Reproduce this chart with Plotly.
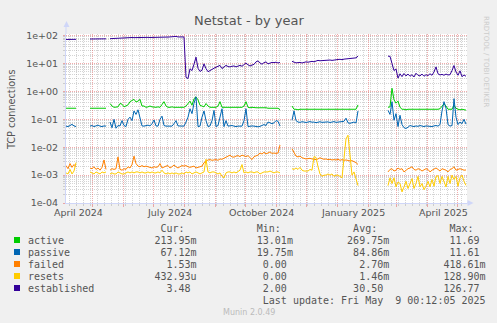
import pandas as pd
import plotly.graph_objects as go

N = None
START = "2024-04-05"
STEP = "2D"

active = [
    .25, .25, .26, .25, .25, .25, N, N, N, N,
    N, N, .25, .25, .25, .24, .25, .25, .25, .25,
    .25, N, .37, .3, .27, .27, .28, .37, .35, .28,
    .3, .33, .43, .48, .52, .42, .45, .52, .3, .3,
    .27, .28, .3, .28, .27, .27, .28, .27, .34, .43,
    .3, .27, .27, .28, .27, .27, .28, .27, .27, .27,
    .3, .38, .45, .32, .55, .64, .5, .32, .3, .28,
    .37, .3, .27, .27, .28, .27, .3, .43, .27, .27,
    .27, .27, .26, .27, .27, .26, .27, .27, .27, .3,
    .43, .27, .26, .27, .26, .26, .26, .26, .27, .26,
    .26, .25, .25, .24, .25, .25, .25, .22, N, N,
    N, N, N, .3, .23, .23, .22, .23, .23, .22,
    .23, .23, .22, .23, .23, .22, .23, .23, .22, .23,
    .23, .22, .23, .23, .22, .23, .23, .22, .23, .23,
    .22, .23, .23, .22, .23, .23, .33, N, N, N,
    N, N, N, N, N, N, N, N, N, N,
    N, .27, .28, 1.3, .5, .38, .45, .27, .23, .23,
    .22, .23, .23, .22, .23, .23, .22, .23, .23, .22,
    .23, .22, .23, .23, .22, .23, .23, .24, .3, .36,
    .3, .23, .23, .23, .32, .25, .23, .22, .23, .22, .214,
]

passive = [
    .057, .055, .06, .066, .058, .055, N, N, N, N,
    N, N, .057, .06, .055, .058, .062, .057, .055, .058,
    .057, N, .08, .05, .1, .048, .06, .058, .09, .06,
    .055, .1, .12, .09, .2, .15, .22, .12, .058, .057,
    .058, .062, .058, .07, .095, .058, .057, .1, .13, .06,
    .057, .058, .057, .057, .07, .09, .058, .057, .058, .057,
    .08, .12, .24, .16, .38, .64, .055, .057, .12, .2,
    .09, .055, .058, .09, .21, .055, .06, .12, .24, .055,
    .09, .057, .058, .06, .057, .055, .057, .058, .057, .09,
    .24, .055, .057, .058, .057, .055, .054, .056, .06, .065,
    .06, .08, .075, .07, .075, .09, .085, .058, N, N,
    N, N, N, .093, .2, .09, .08, .078, .082, .08,
    .077, .08, .083, .079, .08, .076, .08, .082, .078, .08,
    .079, .081, .077, .08, .083, .078, .08, .079, .081, .085,
    .11, .075, .072, .078, .08, .074, .2, N, N, N,
    N, N, N, N, N, N, N, N, N, N,
    N, .21, .15, .43, .093, .16, .055, .14, .065, .05,
    .047, .052, .06, .057, .055, .058, .056, .06, .057, .055,
    .058, .056, .057, .055, .058, .06, .057, .065, .2, .43,
    .25, .065, .057, .06, .55, .12, .065, .08, .07, .1, .067,
]

failed = [
    .0022, .0017, .0026, .0019, .0024, .002, N, N, N, N,
    N, N, .0018, .0017, .002, .0016, .0018, .0015, .0019, .0035,
    .0016, N, .0015, .0017, .0016, .0017, .0045, .0016, .0015, .0017,
    .0016, .002, .0018, .0024, .0048, .0026, .0021, .002, .0022, .002,
    .0021, .002, .002, .0018, .002, .0019, .002, .0026, .0018, .002,
    .0021, .0022, .0018, .002, .0023, .002, .0018, .002, .0022, .0021,
    .0022, .002, .0019, .002, .0021, .0018, .0019, .002, .0021, .0028,
    .0032, .0035, .0036, .0034, .0035, .0036, .0034, .0038, .0037, .004,
    .0044, .0046, .0052, .0045, .0044, .0048, .005, .0046, .0052, .0049,
    .0046, .005, .0044, .0036, .0046, .0048, .0052, .0062, .0057, .0066,
    .0058, .0062, .0068, .006, .0062, .006, .0062, .012, N, N,
    N, N, N, .0088, .0065, .0048, .0045, .0048, .0042, .004,
    .0038, .0039, .004, .0038, .0037, .0036, .0038, .0042, .0039, .0037,
    .0038, .0036, .0037, .0035, .0036, .0035, .0037, .0034, .0036, .0034,
    .0035, .0033, .0032, .0033, .0031, .0028, .0024, N, N, N,
    N, N, N, N, N, N, N, N, N, N,
    N, .0013, .0016, .0017, .0014, .0015, .0018, .0016, .0017, .0013,
    .0015, .0017, .0018, .002, .0016, .0015, .0017, .0016, .0014, .0015,
    .0017, .0016, .0013, .0015, .0016, .0018, .0016, .0014, .0017, .0016,
    .0015, .0013, .0016, .0017, .002, .0015, .0016, .0017, .0016, .0015, .00153,
]

resets = [
    .0012, .0011, .0016, .0011, .0014, .0028, N, N, N, N,
    N, N, .0013, .0012, .0011, .0013, .0012, .0011, .0013, .0012,
    .0013, N, .0011, .0012, .0011, .0011, .0013, .0012, .0011, .0011,
    .0012, .0013, .0012, .0013, .0012, .0013, .0013, .0012, .0013, .0012,
    .0012, .0013, .0012, .0013, .0012, .0012, .0013, .0012, .0015, .0012,
    .0011, .0012, .0011, .0012, .0011, .0012, .0011, .0011, .0012, .0011,
    .0013, .0012, .0013, .0011, .0012, .0013, .0012, .0011, .0012, .0013,
    .0037, .0013, .0012, .0013, .0013, .0012, .0011, .0012, .0009, .0008,
    .0012, .0013, .0013, .0012, .0013, .0012, .0013, .0015, .0024, .0012,
    .0013, .0012, .0013, .0013, .0012, .0013, .0013, .0011, .0012, .0013,
    .0013, .0013, .0014, .0013, .0012, .0013, .0013, .0012, N, N,
    N, N, N, .0017, .0016, .0018, .0016, .0019, .0015, .0014,
    .0014, .0014, .0016, .0015, .0046, .0043, .002, .0011, .0009, .001,
    .001, .0011, .001, .0011, .0009, .001, .001, .0009, .0008, .004,
    .02, .027, .004, .001, .0013, .0008, .00042, N, N, N,
    N, N, N, N, N, N, N, N, N, N,
    N, .00042, .0008, .0005, .0008, .00038, .00057, .0005, .00025, .00038,
    .0006, .00033, .0005, .00075, .00033, .0005, .0009, .00038, .0005, .0003,
    .0004, .0006, .00038, .0007, .0004, .0009, .00095, .0005, .0009, .0006,
    .00038, .0009, .0005, .001, .0007, .0009, .0004, .0008, .001, .0006, .00043,
]

established = [
    73, 73, 74, 73, 73, 74, N, N, N, N,
    N, N, 76, 76, 75, 76, 76, 77, 76, 76,
    77, N, 78, 79, 79, 80, 80, 81, 82, 83,
    85, 85, 86, 86, 85, 86, 86, 87, 86, 86,
    87, 87, 86, 87, 87, 88, 87, 88, 88, 88,
    89, 89, 90, 92, 95, 94, 90, 91, 90, 90,
    3.2, 2.9, 6.5, 5.6, 9.5, 17, 6.8, 5.2, 5.8, 9.8,
    6.6, 5.1, 5.6, 6.4, 6.8, 7.4, 7.8, 8.6, 6.6, 7.4,
    8.6, 7.8, 7.6, 8.0, 8.2, 7.6, 8.0, 8.6, 8.0, 9.0,
    10.5, 9.0, 8.2, 8.8, 9.4, 11.5, 12.5, 10.5, 9.5, 10.8,
    11.5, 9.8, 10.6, 11, 10.8, 11.2, 10.5, 11, N, N,
    N, N, N, 12, 11, 10.6, 10.8, 11, 10.5, 11.2,
    11.5, 11.2, 11.8, 12, 11.6, 12.4, 13, 12.6, 12.8, 13,
    12.8, 13.2, 13.4, 13, 13.6, 13.8, 14, 14.2, 13.8, 14.4,
    14.6, 15, 14.8, 15.2, 15.5, 16, 18.5, N, N, N,
    N, N, N, N, N, N, N, N, N, N,
    N, 18.4, 18.2, 10, 5.6, 6.4, 3.0, 4.3, 3.4, 4.4,
    3.6, 4.2, 3.5, 4.0, 3.3, 4.5, 3.8, 3.6, 4.2, 3.5,
    4.0, 3.7, 4.3, 3.8, 5.0, 7.6, 4.3, 3.9, 4.1, 3.8,
    4.2, 3.9, 4.0, 5.6, 8.5, 5.0, 3.8, 5.5, 3.4, 3.9, 3.5,
]

series_names = ["active", "passive", "failed", "resets", "established"]
series_colors = ["#00CC00", "#0066B3", "#FF8000", "#FFCC00", "#330099"]
series_values = [active, passive, failed, resets, established]
stat_cur = ["213.95m", "67.12m", "1.53m", "432.93u", "3.48"]
stat_min = ["13.01m", "19.75m", "0.00", "0.00", "2.00"]
stat_avg = ["269.75m", "84.86m", "2.70m", "1.46m", "30.50"]
stat_max = ["11.69", "11.61", "418.61m", "128.90m", "126.77"]

y_tick_vals = [1e-4, 1e-3, 1e-2, 1e-1, 1e0, 1e1, 1e2]
y_tick_text = ["1e-04", "1e-03", "1e-02", "1e-01", "1e+00", "1e+01", "1e+02"]
x_label_months = ["2024-04-01", "2024-07-01", "2024-10-01", "2025-01-01", "2025-04-01"]
x_label_text = ["April 2024", "July 2024", "October 2024", "January 2025", "April 2025"]

TITLE = "Netstat - by year"
YTITLE = "TCP connections"
LAST_UPDATE = "Last update: Fri May  9 00:12:05 2025"

dates = pd.date_range(START, periods=len(active), freq=STEP)

W, H = 497, 323
L, R, T, B = 66, 30, 34, 120
PW, PH = W - L - R, H - T - B


def px(x):
    return (x - L) / PW


def py(y):
    return (H - B - y) / PH


TXT = "#555555"
AXIS = "#CFD6F8"
GRID = "rgba(160,160,160,0.45)"
MGRID = "rgba(225,90,90,0.5)"
DOT = "1px,1px"

fig = go.Figure()
for name, col, vals in zip(series_names, series_colors, series_values):
    fig.add_trace(go.Scatter(x=dates, y=vals, mode="lines", name=name,
                             line=dict(color=col, width=1), connectgaps=False,
                             showlegend=False, hoverinfo="skip"))

minor_y = [m * 10.0 ** e for e in range(-4, 2) for m in range(2, 10)]

fig.update_layout(
    width=W, height=H, autosize=False,
    margin=dict(l=L, r=R, t=T, b=B, pad=0),
    paper_bgcolor="#F0F0F0", plot_bgcolor="#FFFFFF",
    font=dict(family="DejaVu Sans", size=9.5, color=TXT),
    showlegend=False,
    xaxis=dict(
        type="date", range=["2024-04-05", "2025-05-11"],
        tickmode="linear", tick0="2024-04-01", dtick="M1",
        showticklabels=False, ticks="outside", ticklen=3, tickcolor=MGRID,
        showgrid=True, gridcolor=MGRID, griddash=DOT, gridwidth=1,
        minor=dict(tick0="2024-04-01", dtick=7 * 86400000, showgrid=True,
                   gridcolor=GRID, griddash=DOT, ticks="outside", ticklen=2,
                   tickcolor=GRID),
        showline=True, linecolor=AXIS, linewidth=1, zeroline=False,
        fixedrange=True,
    ),
    yaxis=dict(
        type="log", range=[-4, 2.06],
        tickmode="array", tickvals=y_tick_vals, ticktext=y_tick_text,
        ticks="outside", ticklen=2, tickcolor=MGRID,
        tickfont=dict(family="DejaVu Sans", size=9.5, color=TXT),
        ticklabelstandoff=3,
        showgrid=True, gridcolor=MGRID, griddash=DOT, gridwidth=1,
        minor=dict(tickmode="array", tickvals=minor_y, showgrid=True,
                   gridcolor=GRID, griddash=DOT, ticks="outside", ticklen=2,
                   tickcolor=GRID),
        showline=True, linecolor=AXIS, linewidth=1, zeroline=False,
        fixedrange=True,
    ),
)

ann = []
shapes = []

ann.append(dict(text=TITLE, x=px(248.5), y=py(20), xref="paper", yref="paper",
                xanchor="center", yanchor="middle", showarrow=False,
                font=dict(family="DejaVu Sans", size=13, color=TXT)))
ann.append(dict(text=YTITLE, x=px(11), y=py(110), xref="paper", yref="paper",
                xanchor="center", yanchor="middle", showarrow=False, textangle=-90,
                font=dict(family="DejaVu Sans", size=9.7, color=TXT)))
ann.append(dict(text="RRDTOOL / TOBI OETIKER", x=px(487), y=py(61), xref="paper",
                yref="paper", xanchor="center", yanchor="middle", showarrow=False,
                textangle=90, font=dict(family="DejaVu Sans", size=7.1, color="#CCCCCC")))

for m, t in zip(x_label_months, x_label_text):
    xpos = pd.Timestamp(m) + pd.Timedelta(hours=16 * 24 + 10)
    ann.append(dict(text=t, x=xpos, y=py(212.7), xref="x", yref="paper",
                    xanchor="center", yanchor="middle", showarrow=False,
                    font=dict(family="DejaVu Sans", size=9.5, color=TXT)))

NB = "\u00a0"
MONO = dict(family="DejaVu Sans Mono", size=10, color=TXT)


def fmt(v):
    return v if v[-1].isalpha() else v + " "


header = " " * 22 + "Cur:" + " " * 12 + "Min:" + " " * 12 + "Avg:" + " " * 12 + "Max:"
row_y0 = 228
ann.append(dict(text=header.replace(" ", NB), x=px(26), y=py(row_y0), xref="paper",
                yref="paper", xanchor="left", yanchor="middle", showarrow=False,
                font=MONO))
for k, name in enumerate(series_names):
    line = name
    for val, end in zip([stat_cur[k], stat_min[k], stat_avg[k], stat_max[k]],
                        [28, 44, 60, 76]):
        v = fmt(val)
        line = line.ljust(end - len(v)) + v
    yc = row_y0 + 12 * (k + 1)
    ann.append(dict(text=line.replace(" ", NB), x=px(26), y=py(yc), xref="paper",
                    yref="paper", xanchor="left", yanchor="middle", showarrow=False,
                    font=MONO))
    shapes.append(dict(type="rect", xref="paper", yref="paper",
                       x0=px(14), x1=px(20), y0=py(yc + 3), y1=py(yc - 3),
                       fillcolor=series_colors[k], line=dict(width=0)))
lu = (" " * (76 - len(LAST_UPDATE)) + LAST_UPDATE).replace(" ", NB)
ann.append(dict(text=lu, x=px(26), y=py(row_y0 + 72), xref="paper", yref="paper",
                xanchor="left", yanchor="middle", showarrow=False, font=MONO))
ann.append(dict(text="Munin 2.0.49", x=px(248.8), y=py(312.3), xref="paper",
                yref="paper", xanchor="center", yanchor="middle", showarrow=False,
                font=dict(family="DejaVu Sans", size=8, color="#BBBBBB")))

shapes.append(dict(type="line", xref="paper", yref="paper", x0=px(66), x1=px(66),
                   y0=py(34), y1=py(26), line=dict(color=AXIS, width=1)))
shapes.append(dict(type="path", xref="paper", yref="paper",
                   path=f"M {px(63.5)},{py(27)} L {px(69.5)},{py(27)} L {px(66.5)},{py(21)} Z",
                   fillcolor=AXIS, line=dict(width=0)))
shapes.append(dict(type="line", xref="paper", yref="paper", x0=px(467), x1=px(470),
                   y0=py(203), y1=py(203), line=dict(color=AXIS, width=1)))
shapes.append(dict(type="path", xref="paper", yref="paper",
                   path=f"M {px(467.5)},{py(200)} L {px(467.5)},{py(206)} L {px(473.5)},{py(203)} Z",
                   fillcolor=AXIS, line=dict(width=0)))

fig.update_layout(annotations=ann, shapes=shapes)
fig.write_html("out.html")
